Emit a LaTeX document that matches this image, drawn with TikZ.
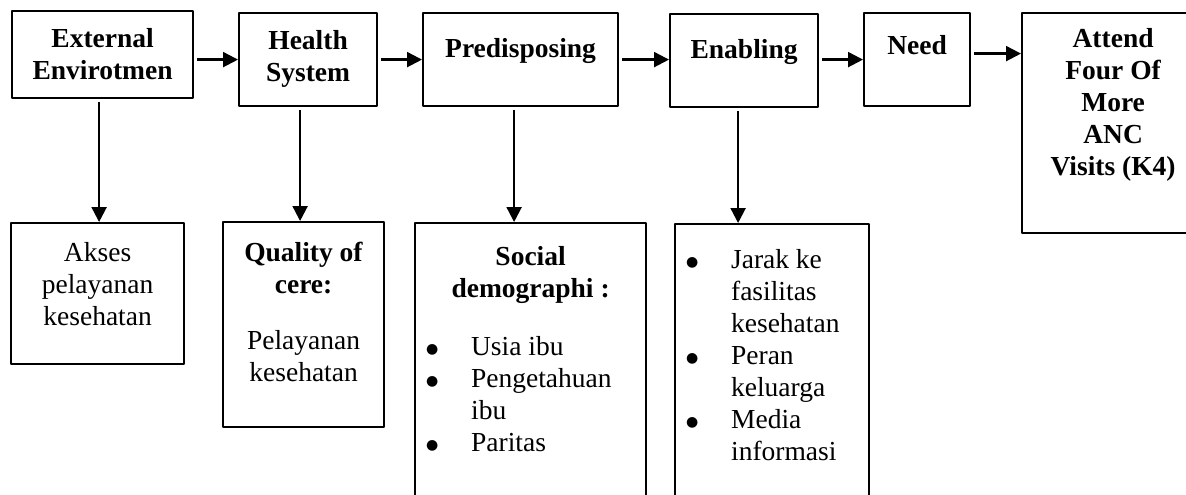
\documentclass[tikz,border=0pt]{standalone}
\usepackage{fontspec}
\setmainfont{Liberation Serif}
\newfontfamily\simbol{DejaVu Sans}
\usetikzlibrary{arrows.meta}

\newcommand{\teks}{\fontsize{27.5}{32}\selectfont}
\newcommand{\isikotak}[3]{\parbox[t][#2][t]{#1}{\teks#3}}
\newcommand{\butir}{\hspace*{11pt}\makebox[45pt][l]{\raisebox{2pt}{\simbol\fontsize{14}{14}\selectfont ●}}}
\newcommand{\lanjut}{\hspace*{56pt}}

\begin{document}
\begin{tikzpicture}[line cap=round, line join=round, x=1pt, y=-1pt,
		>={Triangle[length=15pt,width=15pt]},
		kotak/.style={draw, line width=2.2pt, inner sep=0pt, anchor=north west},
		panah/.style={->, line width=2.2pt, line cap=butt, shorten <=3pt}]
			
			% Page frame
			\useasboundingbox (0,0) rectangle (1186,495);
			
			% Upper row of factors
			\node[kotak] (ext) at (11,10) {\isikotak{181pt}{87pt}{\centering\bfseries\rule{0pt}{36pt}External\\ Envirotmen}};
			\node[kotak] (hs) at (238,12) {\isikotak{138pt}{93pt}{\centering\bfseries\rule{0pt}{36pt}Health\\ System}};
			\node[kotak] (pre) at (422,12) {\isikotak{195pt}{93pt}{\centering\bfseries\rule{0pt}{44pt}Predisposing}};
			\node[kotak] (ena) at (669,13) {\isikotak{148pt}{93pt}{\centering\bfseries\rule{0pt}{44pt}Enabling}};
			\node[kotak] (need) at (863,12) {\isikotak{106pt}{93pt}{\centering\bfseries\rule{0pt}{41pt}Need}};
			\node[kotak] (att) at (1021,12) {\isikotak{182pt}{220pt}{\centering\bfseries\rule{0pt}{34pt}Attend\\ Four Of\\ More\\ ANC\\ Visits (K4)}};
			
			% Lower row of details
			\node[kotak] (aks) at (10,222) {\isikotak{173pt}{141pt}{\centering\rule{0pt}{38pt}Akses\\ pelayanan\\ kesehatan}};
			\node[kotak] (qoc) at (222,221) {\isikotak{161pt}{205pt}{\centering\rule{0pt}{39pt}\textbf{Quality of}\\ \textbf{cere:}\\[24pt] Pelayanan\\ kesehatan}};
			\node[kotak] (soc) at (414,222) {\isikotak{231pt}{285pt}{{\centering\rule{0pt}{42pt}\textbf{Social}\\ \textbf{demographi :}\par}
					\vspace{26pt}\raggedright\butir Usia ibu\\ \butir Pengetahuan\\ \lanjut ibu\\ \butir Paritas}};
			\node[kotak] (jar) at (674,223) {\isikotak{194pt}{285pt}{\raggedright\rule{0pt}{44pt}\butir Jarak ke\\ \lanjut fasilitas\\ \lanjut kesehatan\\
					\butir Peran\\ \lanjut keluarga\\ \butir Media\\ \lanjut informasi}};
			
			% Arrows along the upper row
			\draw[panah] (ext.east |- hs.west) -- (hs.west);
			\draw[panah] (hs.east) -- (pre.west);
			\draw[panah] (pre.east) -- (pre.east -| ena.west);
			\draw[panah] (ena.east |- need.west) -- (need.west);
			\draw[panah] ([yshift=6pt]need.east) -- ([yshift=6pt]need.east -| att.west);
			
			% Arrows down to the details
			\foreach \atas/\bawah/\geser in {ext/aks/-3.5pt, hs/qoc/-8pt, pre/soc/-6.5pt, ena/jar/-6pt}
			\draw[panah] ([xshift=\geser]\atas.south) -- ([xshift=\geser]\atas.south |- \bawah.north);
		\end{tikzpicture}
\end{document}
